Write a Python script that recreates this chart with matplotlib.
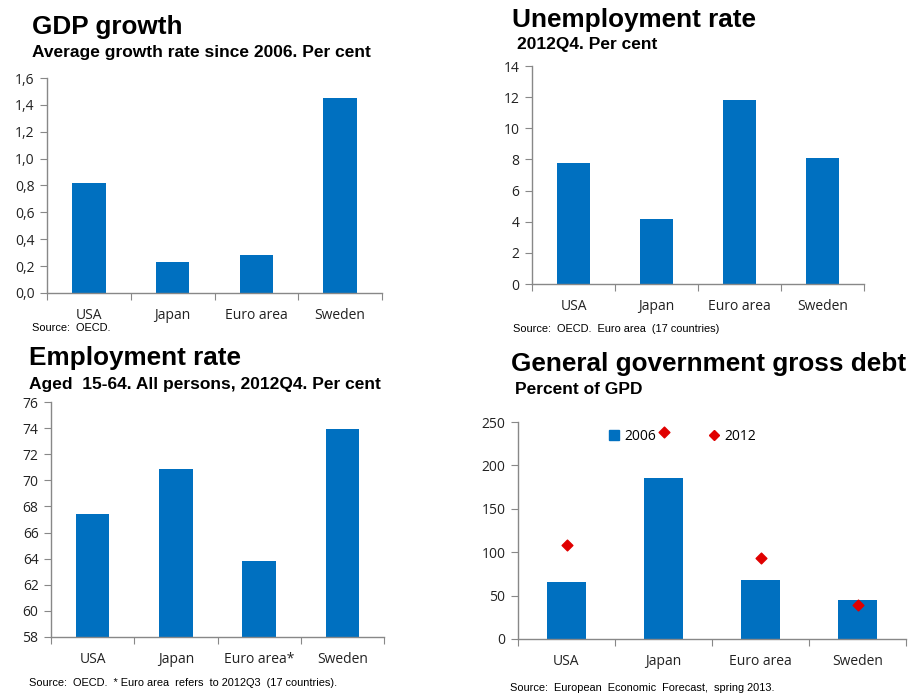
import matplotlib
matplotlib.use("Agg")
import matplotlib.pyplot as plt
from matplotlib.lines import Line2D
from matplotlib.patches import Patch

countries = ["USA", "Japan", "Euro area", "Sweden"]
countries_emp = ["USA", "Japan", "Euro area*", "Sweden"]

gdp_growth = [0.82, 0.23, 0.28, 1.45]
unemployment = [7.8, 4.2, 11.8, 8.1]
employment = [67.4, 70.9, 63.8, 73.9]
debt_2006 = [66, 186, 68, 45]
debt_2012 = [108, 238, 93, 39]

W, H = 908, 696
BLUE = "#0070C0"
RED = "#E00000"
GREY = "#888888"
TXT = "#222222"

fig = plt.figure(figsize=(W / 100, H / 100), dpi=100)
fig.patch.set_facecolor("white")

title_font = dict(family="Liberation Sans", weight="bold", color="black")
tick_font = "Open Sans"
T_SIZE = 18.8
S_SIZE = 12.5
SRC_SIZE = 7.9


def make_ax(left, right, top, bottom):
    # pixel box -> figure fractions
    return fig.add_axes([left / W, 1 - bottom / H, (right - left) / W, (bottom - top) / H])


def style(ax, labels, yticks, fmt=str):
    for s in ["top", "right"]:
        ax.spines[s].set_visible(False)
    for s in ["left", "bottom"]:
        ax.spines[s].set_color(GREY)
        ax.spines[s].set_linewidth(1)
    n = len(labels)
    ax.set_xlim(-0.5, n - 0.5)
    ax.set_xticks([i - 0.5 for i in range(n + 1)])
    ax.set_xticklabels([])
    ax.set_xticks(range(n), minor=True)
    ax.set_xticklabels(labels, minor=True, fontsize=10, family=tick_font, color=TXT)
    ax.tick_params(axis="x", which="major", length=5, color=GREY, direction="out")
    ax.tick_params(axis="x", which="minor", length=0, pad=11)
    ax.set_yticks(yticks)
    ax.set_yticklabels([fmt(v) for v in yticks], fontsize=10, family=tick_font, color=TXT)
    ax.tick_params(axis="y", length=5, color=GREY, direction="out", pad=4)
    ax.set_ylim(yticks[0], yticks[-1])


# GDP growth
ax1 = make_ax(47, 382, 78, 293)
ax1.bar(range(4), gdp_growth, width=0.4, color=BLUE)
style(ax1, countries, [0.0, 0.2, 0.4, 0.6, 0.8, 1.0, 1.2, 1.4, 1.6],
      fmt=lambda v: f"{v:.1f}".replace(".", ","))
fig.text(32 / W, 1 - 27 / H, "GDP growth", fontsize=T_SIZE, va="center", **title_font)
fig.text(32 / W, 1 - 53 / H, "Average growth rate since 2006. Per cent", fontsize=S_SIZE, va="center", **title_font)
fig.text(32 / W, 1 - 328 / H, "Source:  OECD.", fontsize=SRC_SIZE, va="center", family="Liberation Sans")

# Unemployment rate
ax2 = make_ax(532, 864, 66, 284)
ax2.bar(range(4), unemployment, width=0.4, color=BLUE)
style(ax2, countries, [0, 2, 4, 6, 8, 10, 12, 14])
fig.text(512 / W, 1 - 20 / H, "Unemployment rate", fontsize=T_SIZE, va="center", **title_font)
fig.text(517 / W, 1 - 45 / H, "2012Q4. Per cent", fontsize=S_SIZE, va="center", **title_font)
fig.text(513 / W, 1 - 329 / H, "Source:  OECD.  Euro area  (17 countries)", fontsize=SRC_SIZE, va="center",
         family="Liberation Sans")

# Employment rate
ax3 = make_ax(51, 384, 402, 637)
ax3.bar(range(4), employment, width=0.4, color=BLUE)
style(ax3, countries_emp, [58, 60, 62, 64, 66, 68, 70, 72, 74, 76])
fig.text(29 / W, 1 - 358 / H, "Employment rate", fontsize=T_SIZE, va="center", **title_font)
fig.text(29 / W, 1 - 384 / H, "Aged  15-64. All persons, 2012Q4. Per cent", fontsize=S_SIZE, va="center",
         **title_font)
fig.text(29 / W, 1 - 683 / H, "Source:  OECD.  * Euro area  refers  to 2012Q3  (17 countries).", fontsize=SRC_SIZE,
         va="center", family="Liberation Sans")

# Government debt
ax4 = make_ax(518, 906, 422, 639)
ax4.bar(range(4), debt_2006, width=0.4, color=BLUE)
ax4.scatter(range(4), debt_2012, marker="D", s=30, color=RED, zorder=3)
style(ax4, countries, [0, 50, 100, 150, 200, 250])
handles = [Patch(color=BLUE, label="2006"),
           Line2D([], [], marker="D", color=RED, linestyle="none", markersize=5, label="2012")]
leg = ax4.legend(handles=handles, ncol=2, loc="center", bbox_to_anchor=(0.425, 0.935), frameon=False,
                 columnspacing=3.8, handlelength=0.7, handletextpad=0.4,
                 prop=dict(family=tick_font, size=10))
fig.text(511 / W, 1 - 364 / H, "General government gross debt", fontsize=T_SIZE, va="center", **title_font)
fig.text(515 / W, 1 - 389 / H, "Percent of GPD", fontsize=S_SIZE, va="center", **title_font)
fig.text(510 / W, 1 - 688 / H, "Source:  European  Economic  Forecast,  spring 2013.", fontsize=SRC_SIZE,
         va="center", family="Liberation Sans")

fig.savefig("out.png", dpi=100)
